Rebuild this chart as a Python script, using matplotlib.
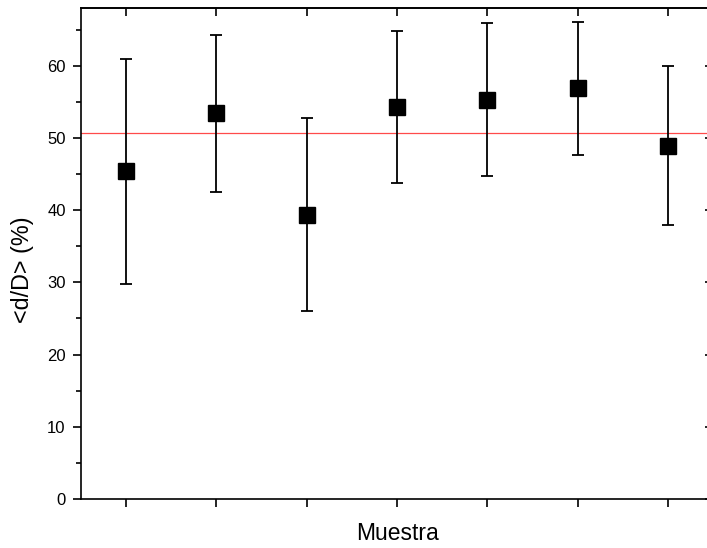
import matplotlib
matplotlib.use("Agg")
import matplotlib.pyplot as plt
from matplotlib.ticker import MultipleLocator

plt.rcParams['font.family'] = ['Liberation Sans', 'DejaVu Sans']

samples = [1, 2, 3, 4, 5, 6, 7]
mean_dD = [45.4, 53.4, 39.4, 54.3, 55.3, 56.9, 48.9]
err_dD = [15.6, 10.9, 13.4, 10.5, 10.6, 9.2, 11.0]
ref_line = 50.7

fig = plt.figure(figsize=(7.07, 5.48), dpi=100)
ax = fig.add_axes([81/707, 49/548, 632/707, 491/548])

ax.errorbar(samples, mean_dD, yerr=err_dD, fmt='s', color='black',
            ecolor='black', elinewidth=1.3, capsize=4, capthick=1.3,
            markersize=11, zorder=3)
ax.axhline(ref_line, color='#ff4a4a', lw=0.9, zorder=2)

ax.set_xlim(0.5, 7.5)
ax.set_ylim(0, 68)
ax.set_xticks(samples)
ax.set_xticklabels([])
ax.yaxis.set_major_locator(MultipleLocator(10))
ax.yaxis.set_minor_locator(MultipleLocator(5))

for s in ax.spines.values():
    s.set_linewidth(1.2)

ax.tick_params(axis='x', which='major', direction='out', length=6, width=1.2,
               top=True, bottom=True)
ax.tick_params(axis='y', which='major', direction='out', length=6, width=1.2,
               labelsize=12, pad=5)
ax.tick_params(axis='y', which='minor', direction='out', length=3.5, width=1.2)

# inward ticks on top and right
axt = ax.secondary_xaxis('top')
axt.set_xticks(samples)
axt.set_xticklabels([])
axt.tick_params(direction='in', length=6, width=1.2)
ax.tick_params(axis='x', top=False)
axr = ax.secondary_yaxis('right')
axr.yaxis.set_major_locator(MultipleLocator(10))
axr.set_yticklabels([])
axr.tick_params(direction='in', length=6, width=1.2)
axt.spines['top'].set_linewidth(1.2)
axr.spines['right'].set_linewidth(1.2)

ax.set_xlabel('Muestra', fontsize=16.5, labelpad=7)
ax.set_ylabel('<d/D> (%)', fontsize=16.8)
ax.yaxis.set_label_coords(-0.074, 0.468)

fig.savefig('out.png', dpi=100)
